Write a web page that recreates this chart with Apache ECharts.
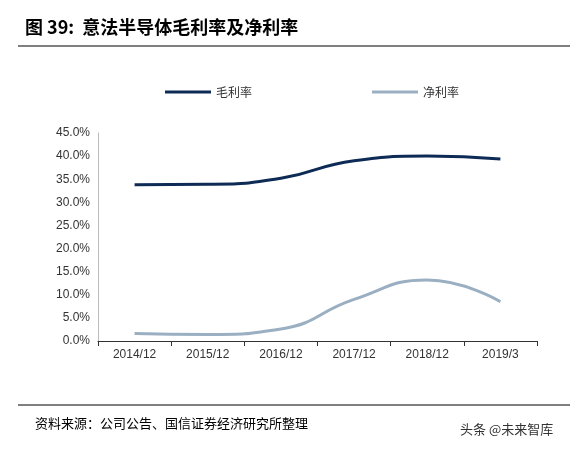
<!DOCTYPE html>
<html><head><meta charset="utf-8">
<script src="https://cdn.jsdelivr.net/npm/echarts@6/dist/echarts.min.js"></script>
<style>body{margin:0;background:#fff}#c{width:587px;height:450px}</style></head>
<body><div id="c"></div>
<script>
const categories=['2014/12','2015/12','2016/12','2017/12','2018/12','2019/3'];
const gross=[33.8,33.9,35.2,39.0,40.0,39.4];
const net=[1.6,1.4,2.6,9.0,13.2,8.5];
const yTicks=[0,5,10,15,20,25,30,35,40,45];
const chart=echarts.init(document.getElementById('c'));
chart.setOption({
 animation:false,
 title:[{text:'图 39:  意法半导体毛利率及净利率',left:20,top:13,textStyle:{fontSize:18,fontWeight:'bold',color:'#000',fontFamily:'Noto Sans CJK SC'}},
  {text:'资料来源：公司公告、国信证券经济研究所整理',left:30,top:412,textStyle:{fontSize:13,fontWeight:'normal',color:'#000',fontFamily:'Noto Sans CJK SC'}},
  {text:'头条 @未来智库',left:455,top:418,textStyle:{fontSize:13,fontWeight:'normal',color:'#333',fontFamily:'Noto Sans CJK SC'}}],
 graphic:[{type:'line',shape:{x1:18,y1:46,x2:570,y2:46},style:{stroke:'#000',lineWidth:1}},
  {type:'line',shape:{x1:18,y1:405,x2:570,y2:405},style:{stroke:'#000',lineWidth:1}}],
 legend:{top:81,left:160,itemGap:120,itemWidth:46,itemHeight:3,icon:'rect',textStyle:{fontSize:12,color:'#333',fontFamily:'Noto Sans CJK SC'},data:['毛利率','净利率']},
 grid:{left:98,right:50,top:133,bottom:109},
 xAxis:{type:'category',data:categories,axisLine:{lineStyle:{color:'#333'}},axisTick:{show:true,lineStyle:{color:'#333'}},axisLabel:{fontSize:12,color:'#333',fontFamily:'Liberation Sans'}},
 yAxis:{type:'value',min:0,max:45,interval:5,splitLine:{show:false},axisLine:{show:true,lineStyle:{color:'#bbb'}},axisLabel:{fontSize:12,color:'#333',fontFamily:'Liberation Sans',formatter:v=>yTicks.includes(v)?v.toFixed(1)+'%':''}},
 series:[
  {name:'毛利率',type:'line',smooth:0.5,symbol:'none',data:gross,lineStyle:{width:3,color:'#0e2b56'},itemStyle:{color:'#0e2b56'}},
  {name:'净利率',type:'line',smooth:0.5,symbol:'none',data:net,lineStyle:{width:3,color:'#9aafc2'},itemStyle:{color:'#9aafc2'}}
 ]
});
</script></body></html>
